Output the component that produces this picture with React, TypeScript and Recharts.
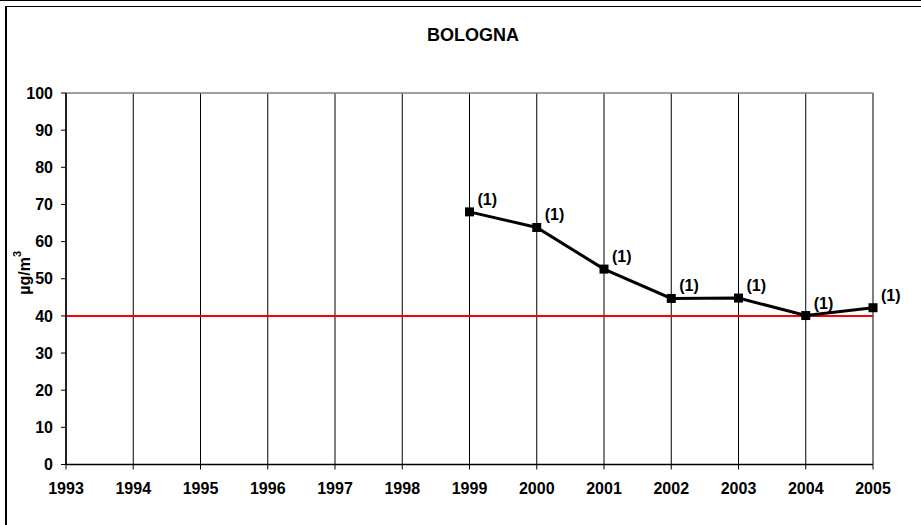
import React from "react";
import {
  LineChart,
  Line,
  XAxis,
  YAxis,
  CartesianGrid,
  ReferenceLine,
  LabelList,
} from "recharts";

const years = [1993, 1994, 1995, 1996, 1997, 1998, 1999, 2000, 2001, 2002, 2003, 2004, 2005];
const yTicks = [0, 10, 20, 30, 40, 50, 60, 70, 80, 90, 100];
const dataYears = [1999, 2000, 2001, 2002, 2003, 2004, 2005];
const values = [68.0, 63.8, 52.6, 44.7, 44.8, 40.1, 42.2];
const notes = ["(1)", "(1)", "(1)", "(1)", "(1)", "(1)", "(1)"];
const limitValue = 40;
const title = "BOLOGNA";

const data = dataYears.map((y, i) => ({ year: y, value: values[i], note: notes[i] }));

const FONT = "'Liberation Sans', Arial, sans-serif";

const SquareDot = (props: any) => {
  const { cx, cy } = props;
  if (cx == null || cy == null) return null;
  return <rect x={cx - 4.5} y={cy - 4.5} width={9} height={9} fill="#000" />;
};

const NoteLabel = (props: any) => {
  const { x, y, value } = props;
  return (
    <text x={x + 8} y={y - 7} fontSize={16} fontWeight="bold" fontFamily={FONT} fill="#000">
      {value}
    </text>
  );
};

const YLabel = (props: any) => {
  const vb = props.viewBox || {};
  const cy = (vb.y ?? 93) + (vb.height ?? 371) / 2 - 6;
  const x = 30;
  return (
    <text
      x={x}
      y={cy}
      transform={`rotate(-90, ${x}, ${cy})`}
      textAnchor="middle"
      fontSize={16}
      fontWeight="bold"
      fontFamily={FONT}
      fill="#000"
    >
      µg/m
      <tspan dy={-9} fontSize={11}>3</tspan>
    </text>
  );
};

export default function App() {
  return (
    <div style={{ position: "absolute", left: 0, top: 0, width: 921, height: 525, background: "#fff", overflow: "hidden" }}>
      <div style={{ position: "absolute", left: 0, top: 0, width: 921, height: 0, borderTop: "1.5px solid #000" }} />
      <div
        style={{
          position: "absolute",
          left: 5,
          top: 6,
          width: 930,
          height: 530,
          borderTop: "1.5px solid #000",
          borderLeft: "2px solid #000",
        }}
      />
      <div
        style={{
          position: "absolute",
          left: 0,
          top: 25.8,
          width: 946,
          textAlign: "center",
          fontFamily: FONT,
          fontWeight: "bold",
          fontSize: 18,
          lineHeight: "18px",
          color: "#000",
        }}
      >
        {title}
      </div>
      <div style={{ position: "absolute", left: 0, top: 0 }}>
        <LineChart
          width={921}
          height={525}
          data={data}
          margin={{ top: 93, right: 48, bottom: 0, left: 0 }}
        >
          <CartesianGrid horizontal={false} vertical={true} stroke="#000" strokeWidth={1} />
          <XAxis
            dataKey="year"
            type="number"
            domain={[1993, 2005]}
            ticks={years}
            interval={0}
            height={60.5}
            tickSize={5}
            tickMargin={13}
            axisLine={{ stroke: "#000", strokeWidth: 1.5 }}
            tickLine={{ stroke: "#000" }}
            tick={{ fill: "#000", fontSize: 16, fontWeight: "bold", fontFamily: FONT }}
            allowDecimals={false}
          />
          <YAxis
            type="number"
            domain={[0, 100]}
            ticks={yTicks}
            interval={0}
            width={66}
            tickSize={5}
            tickMargin={8}
            axisLine={{ stroke: "#000", strokeWidth: 1.5 }}
            tickLine={{ stroke: "#000" }}
            tick={{ fill: "#000", fontSize: 16, fontWeight: "bold", fontFamily: FONT }}
            label={{ content: YLabel }}
          />
          <ReferenceLine y={100} stroke="#808080" strokeWidth={1.5} />
          <ReferenceLine x={2005} stroke="#808080" strokeWidth={1.5} />
          <ReferenceLine y={limitValue} stroke="#ff0000" strokeWidth={2} />
          <Line
            type="linear"
            dataKey="value"
            stroke="#000"
            strokeWidth={3}
            dot={<SquareDot />}
            activeDot={false}
            isAnimationActive={false}
          >
            <LabelList dataKey="note" content={NoteLabel} />
          </Line>
        </LineChart>
      </div>
    </div>
  );
}
